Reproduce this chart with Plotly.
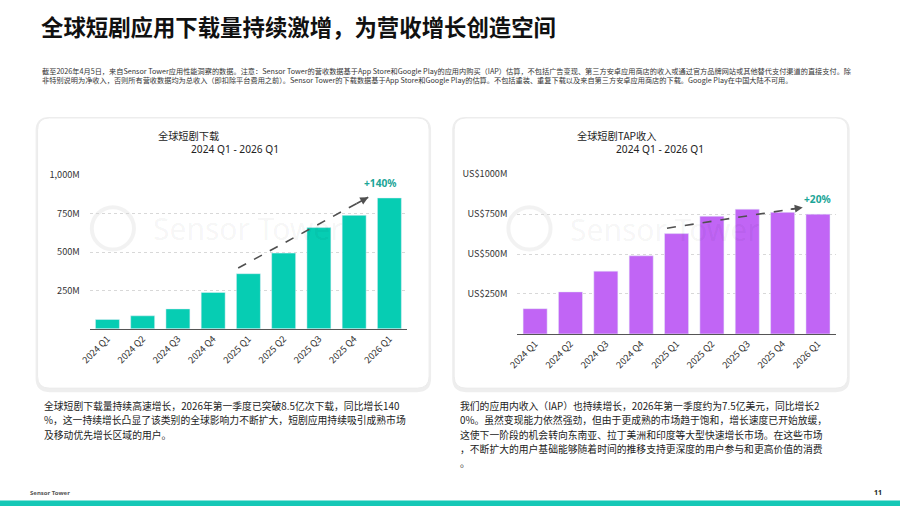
import plotly.graph_objects as go

# data
quarters = ["2024 Q1", "2024 Q2", "2024 Q3", "2024 Q4", "2025 Q1",
            "2025 Q2", "2025 Q3", "2025 Q4", "2026 Q1"]
downloads_m = [61, 85, 130, 237, 359, 493, 659, 739, 852]
iap_revenue_m = [158, 263, 393, 489, 628, 737, 781, 761, 750]

dl_ticks = [250, 500, 750, 1000]
dl_ticktext = ["250M", "500M", "750M", "1,000M"]
rev_ticks = [250, 500, 750, 1000]
rev_ticktext = ["US$250M", "US$500M", "US$750M", "US$1000M"]

# trend arrows (x as category index, y in millions)
dl_trend_x = [3.71, 7.40]
dl_trend_y = [396, 857]
rev_trend_x = [3.73, 7.57]
rev_trend_y = [662, 792]
dl_growth = "+140%"
rev_growth = "+20%"

W, H = 900, 506
TEAL = "#06CDB3"
PURPLE = "#C165F5"
FONT = "Noto Sans CJK SC"

# the screenshot came out slightly shrunk and pushed right/down,
# so positions are pre-corrected
SCX, OX = 0.984, 13.5
SCY, OY = 0.98, 7.5


def px(x):
    return (x - OX) / SCX / W


def py(y):
    return 1 - (y - OY) / SCY / H


def fs(s):
    return round(s / SCY, 1)


def rounded(x0, y0, x1, y1, r):
    # rounded rectangle path in paper coords, pixel input
    rx, ry = r / W, r / H
    a, b, c, d = px(x0), py(y1), px(x1), py(y0)
    return (f"M {a+rx},{b} L {c-rx},{b} Q {c},{b} {c},{b+ry} "
            f"L {c},{d-ry} Q {c},{d} {c-rx},{d} L {a+rx},{d} "
            f"Q {a},{d} {a},{d-ry} L {a},{b+ry} Q {a},{b} {a+rx},{b} Z")


fig = go.Figure()
xs = list(range(len(quarters)))

fig.add_trace(go.Bar(x=xs, y=downloads_m, marker_color=TEAL, width=0.68,
                     xaxis="x", yaxis="y", showlegend=False))
fig.add_trace(go.Bar(x=xs, y=iap_revenue_m, marker_color=PURPLE, width=0.68,
                     xaxis="x2", yaxis="y2", showlegend=False))

fig.add_trace(go.Scatter(x=dl_trend_x, y=dl_trend_y, mode="lines",
                         line=dict(color="#505050", width=1.6, dash="dash"),
                         xaxis="x", yaxis="y", showlegend=False))
fig.add_trace(go.Scatter(x=rev_trend_x, y=rev_trend_y, mode="lines",
                         line=dict(color="#505050", width=1.6, dash="dash"),
                         xaxis="x2", yaxis="y2", showlegend=False))

xax = dict(range=[-0.5, 8.5], tickvals=xs, ticktext=quarters, tickangle=-45,
           tickfont=dict(family=FONT, size=fs(9), color="#333"), showgrid=False,
           showline=True, linecolor="#555", linewidth=1.2, ticks="",
           zeroline=False, fixedrange=True)
yax = dict(range=[0, 1000], showline=False, zeroline=False, ticks="",
           gridcolor="#d8d8d8", griddash="dot", gridwidth=1,
           ticklabelstandoff=9,
           tickfont=dict(family=FONT, size=fs(9), color="#333"), fixedrange=True)

fig.update_layout(
    width=W, height=H, margin=dict(l=0, r=0, t=0, b=0),
    paper_bgcolor="white", plot_bgcolor="rgba(0,0,0,0)",
    bargap=0.32,
    xaxis=dict(xax, domain=[px(92), px(408)], anchor="y"),
    yaxis=dict(yax, domain=[py(327), py(174)], anchor="x",
               tickvals=dl_ticks, ticktext=dl_ticktext),
    xaxis2=dict(xax, domain=[px(518), px(835)], anchor="y2"),
    yaxis2=dict(yax, domain=[py(332), py(173)], anchor="x2",
                tickvals=rev_ticks, ticktext=rev_ticktext),
)

shapes = []
for x0, x1 in [(40, 430), (455, 847)]:
    shapes.append(dict(type="path", xref="paper", yref="paper", layer="below",
                       path=rounded(x0 - 2, 116, x1 + 2, 390, 14),
                       fillcolor="#eeeeee", line=dict(width=0)))
    shapes.append(dict(type="path", xref="paper", yref="paper", layer="below",
                       path=rounded(x0, 117, x1, 386, 12),
                       fillcolor="white", line=dict(color="#ececec", width=1)))
    # faint watermark circle logo
    cx = x0 + 75
    shapes.append(dict(type="circle", xref="paper", yref="paper", layer="below",
                       x0=px(cx - 21), x1=px(cx + 21), y0=py(248), y1=py(206),
                       line=dict(color="rgba(0,0,0,0.05)", width=4)))
shapes.append(dict(type="rect", xref="paper", yref="paper", layer="above",
                   x0=px(0), x1=px(900), y0=py(506), y1=py(498),
                   fillcolor="#16C8B6", line=dict(width=0)))
fig.update_layout(shapes=shapes)

note = ("截至2026年4月5日，来自Sensor Tower应用性能洞察的数据。注意：Sensor Tower的营收数据基于App Store和Google Play的应用内购买（IAP）估算，"
        "不包括广告变现、第三方安卓应用商店的收入或通过官方品牌网站或其他替代支付渠道的直接支付。除<br>"
        "非特别说明为净收入，否则所有营收数据均为总收入（即扣除平台费用之前）。Sensor Tower的下载数据基于App Store和Google Play的估算。"
        "不包括重装、重复下载以及来自第三方安卓应用商店的下载。Google Play在中国大陆不可用。")

left_lines = ["全球短剧下载量持续高速增长，2026年第一季度已突破8.5亿次下载，同比增长140",
              "%，这一持续增长凸显了该类别的全球影响力不断扩大，短剧应用持续吸引成熟市场",
              "及移动优先增长区域的用户。"]
right_lines = ["我们的应用内收入（IAP）也持续增长，2026年第一季度约为7.5亿美元，同比增长2",
               "0%。虽然变现能力依然强劲，但由于更成熟的市场趋于饱和，增长速度已开始放缓，",
               "这使下一阶段的机会转向东南亚、拉丁美洲和印度等大型快速增长市场。在这些市场",
               "，不断扩大的用户基础能够随着时间的推移支持更深度的用户参与和更高价值的消费",
               "。"]

ann = [
    dict(text="<b>全球短剧应用下载量持续激增，为营收增长创造空间</b>",
         x=px(41), y=py(25), xanchor="left", yanchor="middle",
         font=dict(family=FONT, size=fs(22), color="#111")),
    dict(text=note, x=px(42), y=py(75), xanchor="left", yanchor="middle",
         align="left", font=dict(family=FONT, size=fs(7.1), color="#333")),
    dict(text="全球短剧下载", x=px(190), y=py(134), xanchor="center", yanchor="middle",
         font=dict(family=FONT, size=fs(10), color="#222")),
    dict(text="2024 Q1 - 2026 Q1", x=px(237), y=py(148), xanchor="center", yanchor="middle",
         font=dict(family="Noto Sans", size=fs(10), color="#222")),
    dict(text="全球短剧TAP收入", x=px(617), y=py(134), xanchor="center", yanchor="middle",
         font=dict(family=FONT, size=fs(10), color="#222")),
    dict(text="2024 Q1 - 2026 Q1", x=px(660), y=py(148), xanchor="center", yanchor="middle",
         font=dict(family="Noto Sans", size=fs(10), color="#222")),
    dict(text="Sensor Tower", x=px(250), y=py(227), xanchor="center", yanchor="middle",
         font=dict(family="Noto Sans", size=30, color="rgba(0,0,0,0.05)")),
    dict(text="Sensor Tower", x=px(665), y=py(228), xanchor="center", yanchor="middle",
         font=dict(family="Noto Sans", size=30, color="rgba(0,0,0,0.05)")),
    dict(text="<b>Sensor Tower</b>", x=px(30), y=py(490), xanchor="left", yanchor="middle",
         font=dict(family="Noto Sans", size=6, color="#555")),
    dict(text="<b>11</b>", x=px(877), y=py(490), xanchor="center", yanchor="middle",
         font=dict(family="Noto Sans", size=7, color="#222")),
    # growth labels
    dict(text=f"<b>{dl_growth}</b>", x=7.75, y=948, xref="x", yref="y",
         showarrow=False, font=dict(family="Noto Sans", size=fs(10), color="#1BA597")),
    dict(text=f"<b>{rev_growth}</b>", x=8.0, y=843, xref="x2", yref="y2",
         showarrow=False, font=dict(family="Noto Sans", size=fs(10), color="#1BA597")),
    # arrowheads at end of trend lines
    dict(x=dl_trend_x[1], y=dl_trend_y[1], xref="x", yref="y",
         ax=dl_trend_x[0] + (dl_trend_x[1] - dl_trend_x[0]) * 0.9,
         ay=dl_trend_y[0] + (dl_trend_y[1] - dl_trend_y[0]) * 0.9,
         axref="x", ayref="y", showarrow=True, arrowhead=2, arrowsize=1,
         arrowwidth=1.6, arrowcolor="#505050", text=""),
    dict(x=rev_trend_x[1], y=rev_trend_y[1], xref="x2", yref="y2",
         ax=rev_trend_x[0] + (rev_trend_x[1] - rev_trend_x[0]) * 0.9,
         ay=rev_trend_y[0] + (rev_trend_y[1] - rev_trend_y[0]) * 0.9,
         axref="x2", ayref="y2", showarrow=True, arrowhead=2, arrowsize=1,
         arrowwidth=1.6, arrowcolor="#505050", text=""),
]
# body paragraphs, one annotation per line
for i, line in enumerate(left_lines):
    ann.append(dict(text=line, x=px(44), y=py(404 + 14.2 * i), xanchor="left",
                    yanchor="middle", font=dict(family=FONT, size=fs(9.6), color="#222")))
for i, line in enumerate(right_lines):
    ann.append(dict(text=line, x=px(459), y=py(404 + 14.2 * i), xanchor="left",
                    yanchor="middle", font=dict(family=FONT, size=fs(9.6), color="#222")))

for a in ann:
    a.setdefault("showarrow", False)
    if "xref" not in a:
        a["xref"] = "paper"
        a["yref"] = "paper"
fig.update_layout(annotations=ann)

fig.write_html("out.html", config={"displayModeBar": False},
               post_script="document.body.style.margin='0';"
                           "document.body.style.overflow='hidden';"
                           "document.documentElement.style.overflow='hidden';")
